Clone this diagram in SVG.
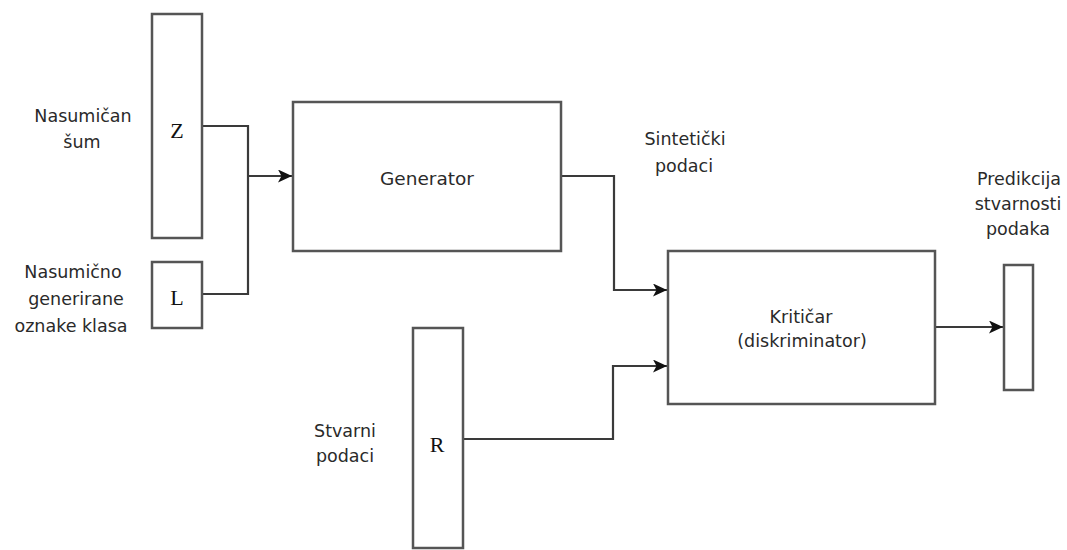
<svg xmlns="http://www.w3.org/2000/svg" width="1067" height="550" viewBox="0 0 1067 550">
<style>
.box{fill:#fff;stroke:#555;stroke-width:2.5}
.lbl{font-family:"DejaVu Sans",Verdana,sans-serif;font-size:17.5px;fill:#2a2a2a;text-anchor:middle}
.sym{font-family:"Liberation Serif","Times New Roman",serif;font-size:22px;fill:#111;text-anchor:middle}
.con{fill:none;stroke:#3a3a3a;stroke-width:2.2}
</style>
<defs>
<marker id="arr" viewBox="0 0 14 13" refX="14" refY="6.5" markerWidth="14" markerHeight="13" markerUnits="userSpaceOnUse" orient="auto">
<path d="M0,0 L14,6.5 L0,13 L3.5,6.5 Z" fill="#111"/>
</marker>
</defs>
<rect width="1067" height="550" fill="#fff"/>
<g id="connectors">
<polyline class="con" points="202,126 248,126 248,294 202,294"/>
<line class="con" x1="248" y1="176" x2="292" y2="176" marker-end="url(#arr)"/>
<polyline class="con" points="561,176 614,176 614,290 667,290" marker-end="url(#arr)"/>
<polyline class="con" points="463,439 613,439 613,366 667,366" marker-end="url(#arr)"/>
<line class="con" x1="935" y1="327" x2="1003" y2="327" marker-end="url(#arr)"/>
</g>
<g id="z">
<rect class="box" x="152" y="14" width="50" height="224"/>
<text class="sym" x="177" y="138">Z</text>
</g>
<g id="l">
<rect class="box" x="152" y="262" width="50" height="66"/>
<text class="sym" x="177" y="305">L</text>
</g>
<g id="generator">
<rect class="box" x="293" y="102" width="268" height="149"/>
<text class="lbl" x="427" y="185" style="font-size:18.5px">Generator</text>
</g>
<g id="kriticar">
<rect class="box" x="668" y="251" width="267" height="153"/>
<text class="lbl" x="801" y="323">Kritičar</text>
<text class="lbl" x="802" y="347">(diskriminator)</text>
</g>
<g id="r">
<rect class="box" x="413" y="328" width="50" height="220"/>
<text class="sym" x="437" y="452">R</text>
</g>
<g id="pred">
<rect class="box" x="1004" y="265" width="29" height="125"/>
</g>
<g id="labels">
<text class="lbl" x="83" y="122">Nasumičan</text>
<text class="lbl" x="82" y="148">šum</text>
<text class="lbl" x="73" y="278">Nasumično</text>
<text class="lbl" x="76" y="305">generirane</text>
<text class="lbl" x="71" y="332">oznake klasa</text>
<text class="lbl" x="685" y="145">Sintetički</text>
<text class="lbl" x="684" y="172">podaci</text>
<text class="lbl" x="1019" y="185">Predikcija</text>
<text class="lbl" x="1018" y="210">stvarnosti</text>
<text class="lbl" x="1018" y="235">podaka</text>
<text class="lbl" x="345" y="437">Stvarni</text>
<text class="lbl" x="345" y="462">podaci</text>
</g>
</svg>
